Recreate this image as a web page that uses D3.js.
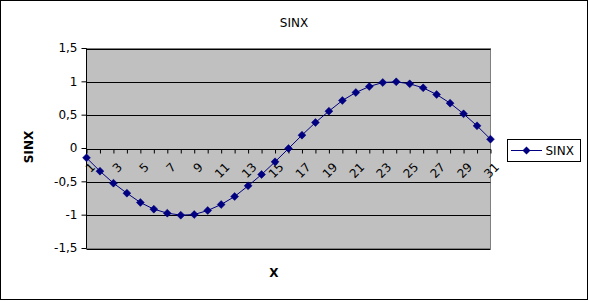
<!DOCTYPE html>
<html><head><meta charset="utf-8">
<script src="https://cdn.jsdelivr.net/npm/d3@7"></script>
<style>body{margin:0;background:#fff}svg{display:block}text{font-family:"DejaVu Sans",Verdana,sans-serif}</style>
</head><body><svg id="c" width="589" height="301"></svg>
<script>
const categories = d3.range(1, 32);
const sinxValues = [-0.14,-0.34,-0.52,-0.67,-0.81,-0.91,-0.97,-1.00,-0.99,-0.93,-0.84,-0.72,-0.56,-0.39,-0.20,0.00,0.20,0.39,0.56,0.72,0.84,0.93,0.99,1.00,0.97,0.91,0.81,0.68,0.52,0.34,0.14];
const yTicks = [-1.5,-1,-0.5,0,0.5,1,1.5];
const xTickLabels = categories.filter(c => c % 2 === 1);
const seriesName = "SINX";

const svg = d3.select("#c");
const W = 589, H = 301;
const L = 86.5, R = 490.5, T = 48.5, B = 248.5;

svg.append("rect").attr("x",0.5).attr("y",0.5).attr("width",W-2).attr("height",H-2)
  .attr("fill","#fff").attr("stroke","#000");

const x = d3.scalePoint().domain(categories).range([L, R]);
const y = d3.scaleLinear().domain([-1.5, 1.5]).range([B, T]);
const fmt = v => String(v).replace(".", ",");

svg.append("rect").attr("x",L).attr("y",T).attr("width",R-L).attr("height",B-T)
  .attr("fill","#c0c0c0").attr("stroke","#808080");

// gridlines
svg.append("g").selectAll("line").data(yTicks).join("line")
  .attr("x1",L).attr("x2",R).attr("y1",d=>Math.round(y(d))+0.5).attr("y2",d=>Math.round(y(d))+0.5)
  .attr("stroke","#000");

// y axis
const ya = svg.append("g").attr("transform",`translate(${L},0)`)
  .call(d3.axisLeft(y).tickValues(yTicks).tickFormat(fmt).tickSize(5).tickSizeOuter(0).offset(0));
ya.select(".domain").attr("stroke","#000");
ya.selectAll("text").attr("font-size",12).attr("fill","#000").attr("x",-9);

// x axis at zero
const x0 = Math.round(y(0))+0.5;
const xa = svg.append("g").attr("transform",`translate(0,${x0})`)
  .call(d3.axisBottom(x).tickValues(categories).tickSize(4).tickSizeOuter(0).tickFormat(""));
xa.select(".domain").remove();
xa.selectAll("line").attr("stroke","#000");
svg.append("line").attr("x1",L).attr("x2",R).attr("y1",x0).attr("y2",x0).attr("stroke","#000");

svg.append("g").selectAll("text").data(xTickLabels).join("text")
  .attr("transform",d=>`translate(${x(d)+3},${x0+12}) rotate(-45)`)
  .attr("text-anchor","end").attr("dy","0.75em").attr("font-size",12).attr("fill","#000")
  .text(d=>d);

// line
const line = d3.line().x((d,i)=>x(categories[i])).y(d=>y(d));
svg.append("path").datum(sinxValues).attr("d",line).attr("fill","none")
  .attr("stroke","#000080").attr("stroke-width",1);
const diamond = d3.symbol().type(d3.symbolDiamond2).size(40);
svg.append("g").selectAll("path").data(sinxValues).join("path")
  .attr("transform",(d,i)=>`translate(${x(categories[i])},${y(d)})`)
  .attr("d",diamond).attr("fill","#000080").attr("stroke","#000080").attr("stroke-width",0.5);

// titles
svg.append("text").attr("x",294).attr("y",27).attr("text-anchor","middle").attr("font-size",12).text("SINX");
svg.append("text").attr("x",274).attr("y",277).attr("text-anchor","middle").attr("font-size",12).attr("font-weight","bold").text("X");
svg.append("text").attr("transform","translate(33,147) rotate(-90)").attr("text-anchor","middle")
  .attr("font-size",12).attr("font-weight","bold").text("SINX");

// legend
const lg = svg.append("g");
lg.append("rect").attr("x",507.5).attr("y",139.5).attr("width",73).attr("height",22).attr("fill","#fff").attr("stroke","#000");
lg.append("line").attr("x1",511).attr("x2",542).attr("y1",150.5).attr("y2",150.5).attr("stroke","#000080");
lg.append("path").attr("transform","translate(526.5,150.5)").attr("d",diamond).attr("fill","#000080");
lg.append("text").attr("x",545.5).attr("y",155).attr("font-size",12).text(seriesName);
</script></body></html>
